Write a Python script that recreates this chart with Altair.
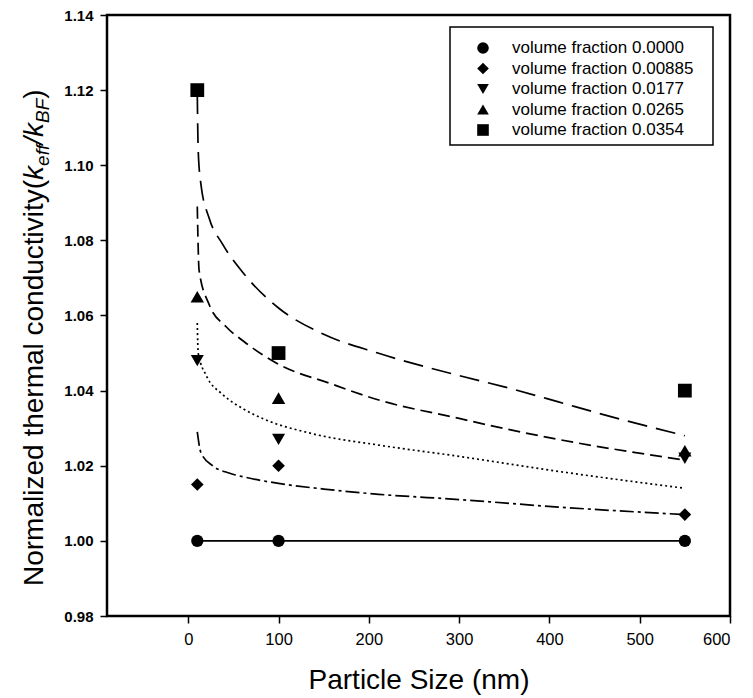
import altair as alt
import pandas as pd

FONT = "Liberation Sans"

series_labels = [
    "volume fraction 0.0000",
    "volume fraction 0.00885",
    "volume fraction 0.0177",
    "volume fraction 0.0265",
    "volume fraction 0.0354",
]
shapes = ["circle", "diamond", "triangle-down", "triangle-up", "square"]
marker_sizes = [150, 190, 180, 180, 135]
dashes = [[1, 0], [14, 4, 3, 4], [2, 3], [12, 6], [20, 9]]

# measured points
particle_sizes = [10, 100, 550]
pts_0000 = [1.000, 1.000, 1.000]
pts_00885 = [1.015, 1.020, 1.007]
pts_0177 = [1.048, 1.027, 1.022]
pts_0265 = [1.065, 1.038, 1.024]
pts_0354 = [1.120, 1.050, 1.040]

# model curves
c0000_x = [10, 550]
c0000_y = [1.000, 1.000]
c00885_x = [10, 14, 27, 46, 62, 100, 150, 211, 300, 410, 550]
c00885_y = [1.029, 1.0235, 1.020, 1.018, 1.017, 1.0153, 1.0138, 1.0124, 1.011, 1.009, 1.007]
c0177_x = [10, 11, 20, 38, 62, 83, 138, 211, 300, 410, 550]
c0177_y = [1.058, 1.050, 1.044, 1.039, 1.035, 1.0325, 1.0285, 1.0255, 1.0225, 1.0185, 1.014]
c0265_x = [10, 12, 23, 42, 62, 100, 156, 211, 300, 348, 410, 550]
c0265_y = [1.089, 1.072, 1.063, 1.057, 1.053, 1.047, 1.042, 1.0375, 1.0326, 1.030, 1.027, 1.0215]
c0354_x = [10, 11, 14, 23, 38, 62, 100, 150, 210, 300, 350, 410, 454, 550]
c0354_y = [1.119, 1.104, 1.095, 1.086, 1.079, 1.071, 1.062, 1.055, 1.050, 1.044, 1.041, 1.037, 1.034, 1.028]

x_ticks = [0, 100, 200, 300, 400, 500, 600]
y_ticks = [0.98, 1.00, 1.02, 1.04, 1.06, 1.08, 1.10, 1.12, 1.14]

pts_all = [pts_0000, pts_00885, pts_0177, pts_0265, pts_0354]
pts_rows = []
for lab, vals in zip(series_labels, pts_all):
    for s, v in zip(particle_sizes, vals):
        pts_rows.append({"series": lab, "sz": lab, "size": s, "k": v})
pts_df = pd.DataFrame(pts_rows)

curves = [(c0000_x, c0000_y), (c00885_x, c00885_y), (c0177_x, c0177_y),
          (c0265_x, c0265_y), (c0354_x, c0354_y)]
curve_rows = []
for lab, (xs, ys) in zip(series_labels, curves):
    for s, v in zip(xs, ys):
        curve_rows.append({"curve": lab, "size": s, "k": v})
curve_df = pd.DataFrame(curve_rows)

x_enc = alt.X(
    "size:Q",
    scale=alt.Scale(domain=[-90, 600], nice=False, zero=False),
    axis=alt.Axis(
        values=x_ticks, title="Particle Size (nm)", grid=False, domain=False,
        tickSize=7, tickWidth=1.5, tickColor="black",
        labelFont=FONT, labelFontSize=16.5, labelColor="black", labelPadding=8,
        titleFont=FONT, titleFontSize=28, titleFontWeight="normal",
        titleColor="black", titlePadding=19,
    ),
)
y_enc = alt.Y(
    "k:Q",
    scale=alt.Scale(domain=[0.98, 1.14], nice=False, zero=False),
    axis=alt.Axis(
        values=y_ticks, format=".2f", title=None, grid=False, domain=False,
        tickSize=7, tickWidth=1.5, tickColor="black",
        labelFont=FONT, labelFontSize=15, labelFontWeight="bold",
        labelColor="black", labelPadding=7,
    ),
)

lines = alt.Chart(curve_df).mark_line(
    color="black", strokeWidth=1.7, interpolate="monotone"
).encode(
    x=x_enc,
    y=y_enc,
    strokeDash=alt.StrokeDash(
        "curve:N", scale=alt.Scale(domain=series_labels, range=dashes), legend=None
    ),
    detail="curve:N",
)

points = alt.Chart(pts_df).mark_point(
    filled=True, color="black", opacity=1
).encode(
    x=x_enc,
    y=y_enc,
    shape=alt.Shape(
        "series:N", scale=alt.Scale(domain=series_labels, range=shapes), legend=None
    ),
    size=alt.Size(
        "sz:N", scale=alt.Scale(domain=series_labels, range=marker_sizes), legend=None
    ),
)

# legend box drawn as annotation (pixel layout of the key)
blank = alt.Data(values=[{}])
legend_layers = [
    alt.Chart(blank).mark_rect(
        fill="white", stroke="black", strokeWidth=1.5
    ).encode(x=alt.value(343), x2=alt.value(606), y=alt.value(12), y2=alt.value(130))
]
row_y = [33, 53.5, 74, 94.5, 115]
for lab, shp, ry in zip(series_labels, shapes, row_y):
    legend_layers.append(
        alt.Chart(blank).mark_point(
            shape=shp, filled=True, color="black", opacity=1, size=135
        ).encode(x=alt.value(376), y=alt.value(ry))
    )
    legend_layers.append(
        alt.Chart(blank).mark_text(
            text=lab, align="left", baseline="middle", font=FONT,
            fontSize=17, color="black",
        ).encode(x=alt.value(405), y=alt.value(ry))
    )

# y-axis title pieces (rotated text with italic/subscript parts)
title_pieces = [
    ("Normalized thermal conductivity(", 28, "normal", -64, 571),
    ("k", 28, "italic", -64, 164.9),
    ("eff", 19, "italic", -58, 150.9),
    ("/", 28, "italic", -64, 129.8),
    ("k", 28, "italic", -64, 122.0),
    ("BF", 19, "italic", -58, 108.0),
    (" )", 28, "normal", -64, 83.7),
]
title_layers = []
for txt, fs, style, xv, yv in title_pieces:
    title_layers.append(
        alt.Chart(blank).mark_text(
            text=txt, angle=270, align="left", baseline="alphabetic",
            font=FONT, fontSize=fs, fontStyle=style, color="black",
        ).encode(x=alt.value(xv), y=alt.value(yv))
    )

chart = alt.layer(lines, points, *legend_layers, *title_layers).properties(
    width=623,
    height=601,
    autosize=alt.AutoSizeParams(type="none"),
    padding={"left": 99, "top": 7, "right": 10, "bottom": 80},
).configure(font=FONT).configure_view(
    stroke="black", strokeWidth=2.5
)

chart.save("out.html", embed_options={"renderer": "svg", "actions": False})
